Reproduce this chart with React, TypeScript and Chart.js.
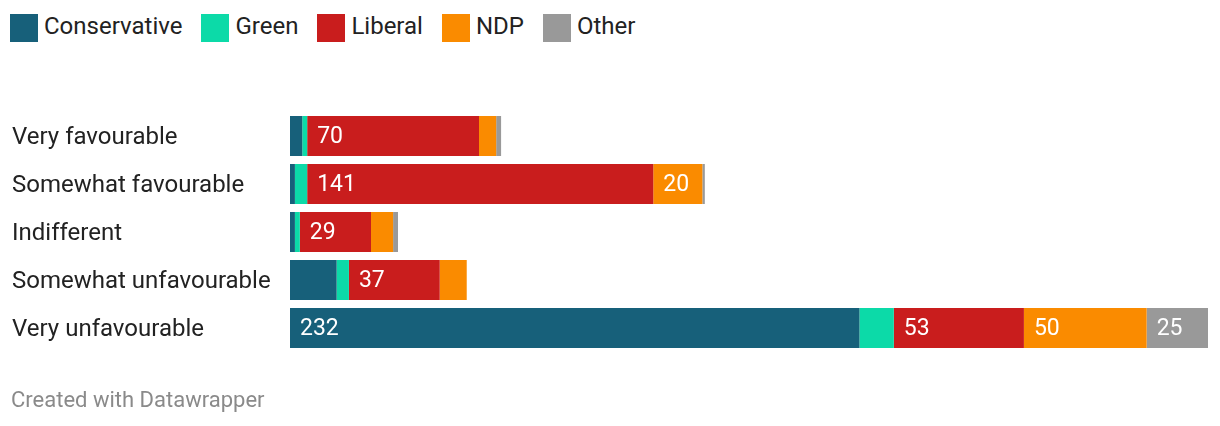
import React, { useEffect, useRef } from "react";
import { Chart, registerables } from "chart.js";

Chart.register(...registerables);

const categories = [
  "Very favourable",
  "Somewhat favourable",
  "Indifferent",
  "Somewhat unfavourable",
  "Very unfavourable",
];
const conservative = [5, 2, 2, 19, 232];
const green = [2, 5, 2, 5, 14];
const liberal = [70, 141, 29, 37, 53];
const ndp = [7, 20, 9, 11, 50];
const other = [2, 1, 2, 0, 25];

const seriesNames = ["Conservative", "Green", "Liberal", "NDP", "Other"];
const seriesColors = ["#17607a", "#0cdaa8", "#c91d1d", "#fa8b00", "#999999"];
const seriesValues = [conservative, green, liberal, ndp, other];

const FONT = "Roboto, 'Noto Sans', sans-serif";

const valueLabels = {
  id: "valueLabels",
  afterDatasetsDraw(chart: any) {
    const ctx = chart.ctx;
    ctx.save();
    ctx.font = `23px ${FONT}`;
    ctx.fillStyle = "#ffffff";
    ctx.textAlign = "left";
    ctx.textBaseline = "middle";
    chart.data.datasets.forEach((ds: any, di: number) => {
      const meta = chart.getDatasetMeta(di);
      meta.data.forEach((bar: any, i: number) => {
        const v = ds.data[i];
        if (v >= 20) {
          const start = Math.min(bar.x, bar.base);
          ctx.fillText(String(v), start + 10, bar.y + 1);
        }
      });
    });
    ctx.restore();
  },
};

export default function App() {
  const canvasRef = useRef<HTMLCanvasElement | null>(null);

  useEffect(() => {
    document.body.style.margin = "0";
    const canvas = canvasRef.current!;
    const chart = new Chart(canvas, {
      type: "bar",
      data: {
        labels: categories,
        datasets: seriesNames.map((name, i) => ({
          label: name,
          data: seriesValues[i],
          backgroundColor: seriesColors[i],
          borderWidth: 0,
          barPercentage: 1,
          categoryPercentage: 40 / 48,
        })),
      },
      options: {
        indexAxis: "y",
        animation: false,
        responsive: false,
        maintainAspectRatio: false,
        layout: { padding: { left: 12, right: 12, top: 112, bottom: 74 } },
        plugins: {
          legend: { display: false },
          tooltip: { enabled: false },
        },
        scales: {
          x: {
            stacked: true,
            display: false,
            min: 0,
            max: 374,
          },
          y: {
            stacked: true,
            grid: { display: false },
            border: { display: false },
            ticks: {
              crossAlign: "far",
              color: "#222222",
              font: { family: FONT, size: 24 },
              padding: 0,
              labelOffset: 2,
            },
            afterFit: (scale: any) => {
              scale.width = 278;
            },
          },
        },
      },
      plugins: [valueLabels],
    });
    return () => chart.destroy();
  }, []);

  return (
    <div style={{ position: "relative", width: 1220, height: 426, fontFamily: FONT }}>
      <div
        style={{
          position: "absolute",
          left: 10,
          top: 14,
          display: "flex",
          alignItems: "center",
          gap: 19,
        }}
      >
        {seriesNames.map((name, i) => (
          <div key={name} style={{ display: "flex", alignItems: "center", gap: 6 }}>
            <span
              style={{
                display: "inline-block",
                width: 28,
                height: 28,
                background: seriesColors[i],
              }}
            />
            <span
              style={{
                fontSize: 24,
                color: "#222222",
                lineHeight: "28px",
                position: "relative",
                top: -2,
              }}
            >
              {name}
            </span>
          </div>
        ))}
      </div>
      <canvas ref={canvasRef} width={1220} height={426} style={{ position: "absolute", left: 0, top: 0 }} />
      <div
        style={{
          position: "absolute",
          left: 11,
          top: 388,
          fontSize: 22,
          color: "#8a8a8a",
          lineHeight: "24px",
        }}
      >
        Created with Datawrapper
      </div>
    </div>
  );
}
